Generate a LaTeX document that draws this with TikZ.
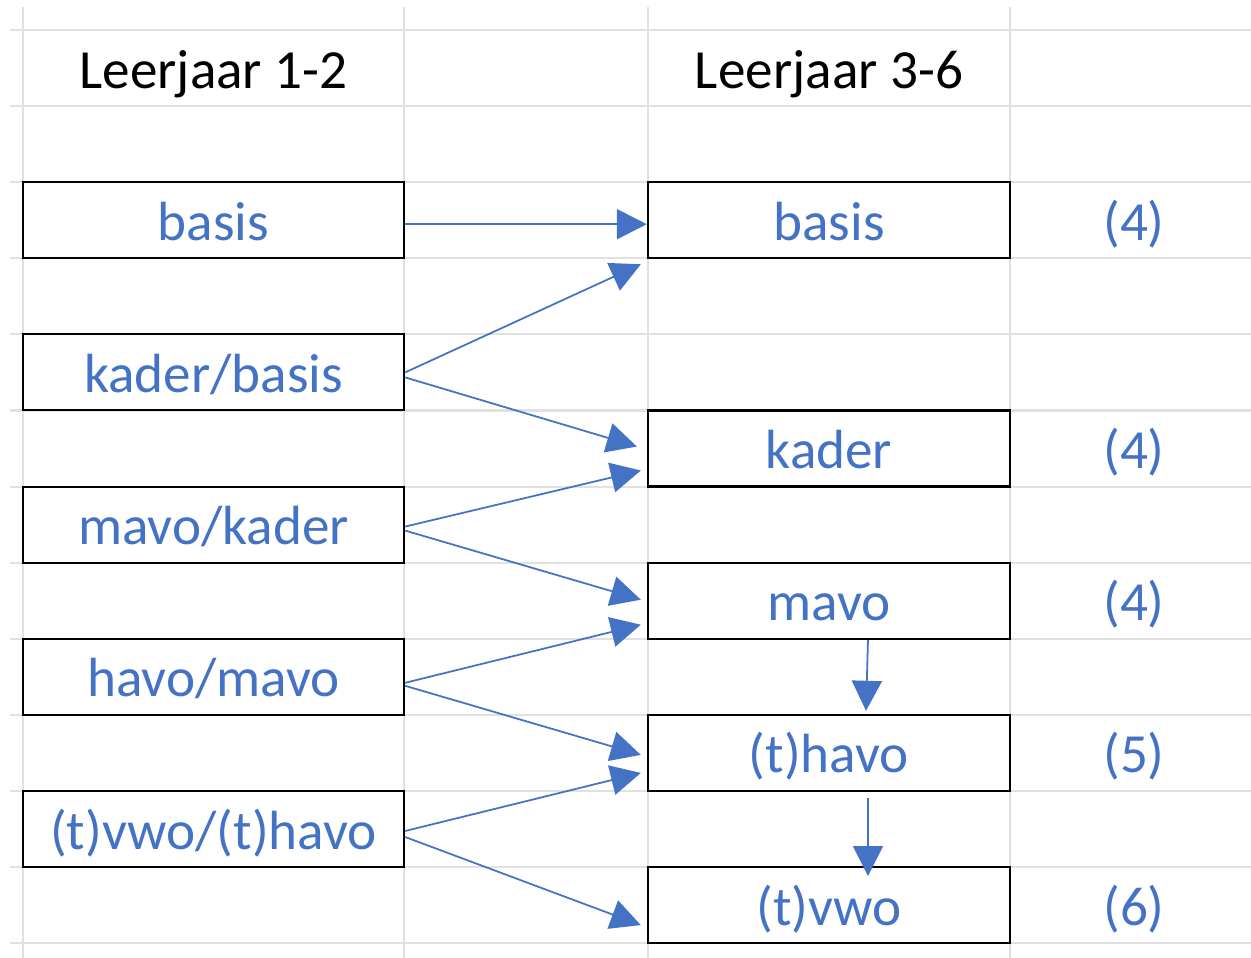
\documentclass[tikz,border=0pt]{standalone}
\usepackage{fontspec}
\setmainfont{Carlito}
\usetikzlibrary{arrows.meta}
\definecolor{excelblauw}{HTML}{4472C4}
\definecolor{rasterlijn}{HTML}{E1E1E1}
\begin{document}
\begin{tikzpicture}[x=0.01cm, y=-0.01cm,
		tekst/.style={font=\fontsize{15.7}{18}\selectfont, text height=0.45cm, text depth=0.05cm},
		vak/.style={tekst, draw=black, line width=0.6pt, rectangle, inner sep=0pt,
			minimum height=0.76cm, text=excelblauw},
		links/.style={vak, minimum width=3.81cm},
		rechts/.style={vak, minimum width=3.62cm},
		getal/.style={tekst, text=excelblauw},
		kop/.style={tekst, text=black},
		pijl/.style={excelblauw, line width=0.5pt, -{Triangle[length=0.3cm, width=0.3cm]}}]
		\useasboundingbox (0,0) rectangle (1251,958);

		\foreach \k in {0,...,12}
			\draw[rasterlijn, line width=0.6pt] (10,30+76.1*\k) -- (1251,30+76.1*\k);
		\foreach \x in {23,404,648,1010}
			\draw[rasterlijn, line width=0.6pt] (\x,7) -- (\x,958);

		\node[kop] (h1) at (213.5,68) {Leerjaar 1-2};
		\node[kop] (h2) at (829,68) {Leerjaar 3-6};

		\node[links] (l1) at (213.5,220.2) {basis};
		\node[links] (l2) at (213.5,372.4) {kader/basis};
		\node[links] (l3) at (213.5,524.6) {mavo/kader};
		\node[links] (l4) at (213.5,676.8) {havo/mavo};
		\node[links] (l5) at (213.5,829) {(t)vwo/(t)havo};

		\node[rechts] (r1) at (829,220.2) {basis};
		\node[rechts] (r2) at (829,448.5) {kader};
		\node[rechts] (r3) at (829,600.7) {mavo};
		\node[rechts] (r4) at (829,752.9) {(t)havo};
		\node[rechts] (r5) at (829,905.1) {(t)vwo};

		\node[getal] (n1) at (1134,220.2) {(4)};
		\node[getal] (n2) at (1134,448.5) {(4)};
		\node[getal] (n3) at (1134,600.7) {(4)};
		\node[getal] (n4) at (1134,752.9) {(5)};
		\node[getal] (n5) at (1134,905.1) {(6)};

		\draw[pijl] ([shift={(0,4)}]l1.east) -- ([shift={(0,4)}]r1.west);
		\draw[pijl] (l2.east) -- ([shift={(-6,5)}]r1.south west);
		\draw[pijl] ([shift={(0,5)}]l2.east) -- ([shift={(-10,-2)}]r2.west);
		\draw[pijl] ([shift={(0,2)}]l3.east) -- ([shift={(-6,22)}]r2.west);
		\draw[pijl] ([shift={(0,6)}]l3.east) -- ([shift={(-6,-1)}]r3.west);
		\draw[pijl] ([shift={(0,6)}]l4.east) -- ([shift={(-6,24)}]r3.west);
		\draw[pijl] ([shift={(0,9)}]l4.east) -- ([shift={(-6,2)}]r4.west);
		\draw[pijl] ([shift={(0,2)}]l5.east) -- ([shift={(-6,20)}]r4.west);
		\draw[pijl] ([shift={(0,8)}]l5.east) -- ([shift={(-6,20)}]r5.west);

		\draw[pijl] ([shift={(39,0)}]r3.south) -- ([shift={(37,-3)}]r4.north);
		\draw[pijl] ([shift={(39,6)}]r4.south) -- ([shift={(39,10)}]r5.north);
	\end{tikzpicture}
\end{document}
